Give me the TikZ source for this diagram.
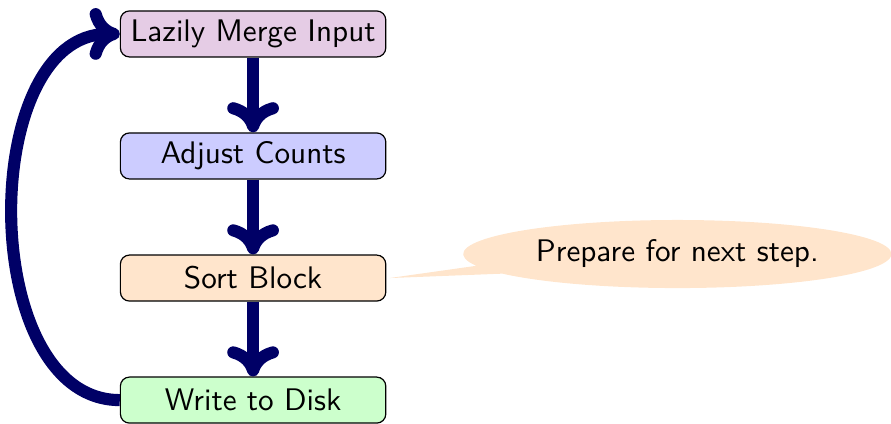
\documentclass[tikz,border=0pt]{standalone}
\usetikzlibrary{arrows.meta,shapes.callouts}

\begin{document}
\begin{tikzpicture}[font=\sffamily\fontsize{10.3pt}{12pt}\selectfont,
 stage/.style={draw,rounded corners=3pt,minimum width=3.08cm,minimum height=0.534cm,inner sep=0pt},
 flow/.style={-{Computer Modern Rightarrow[length=3.5mm,width=6mm,line cap=round]},line width=4pt,blue!40!black}]
\useasboundingbox (0,0) rectangle (10.34,4.91);
\node[stage,fill=violet!20] (merge) at (2.937,4.516) {Lazily Merge Input};
\node[stage,fill=blue!20] (adjust) at (2.937,3.100) {Adjust Counts};
\node[stage,fill=orange!20] (sort) at (2.937,1.683) {Sort Block};
\node[stage,fill=green!20] (write) at (2.937,0.267) {Write to Disk};
\draw[flow] (merge)--(adjust); \draw[flow] (adjust)--(sort); \draw[flow] (sort)--(write);
\draw[flow] (write.west) to[out=180,in=180] (merge.west);
\node[ellipse callout,fill=orange!20,minimum width=4.97cm,minimum height=0.79cm,inner sep=0pt,
 callout absolute pointer={([xshift=1pt]sort.east)}] (note) at (7.86,1.962) {Prepare for next step.};
\end{tikzpicture}
\end{document}
